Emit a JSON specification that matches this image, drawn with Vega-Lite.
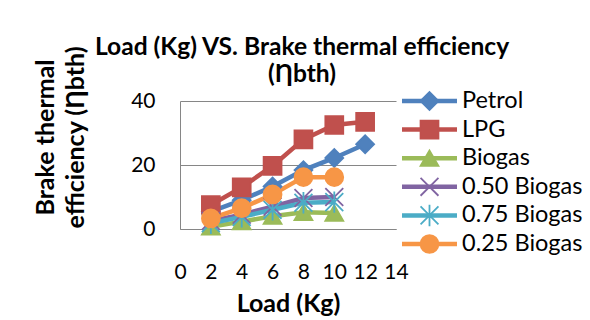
{
  "$schema": "https://vega.github.io/schema/vega-lite/v6.json",
  "padding": {"left": 33, "top": 35, "right": 0, "bottom": 0},
  "bounds": "flush",
  "spacing": 6,
  "title": {
    "text": ["Load (Kg) VS. Brake thermal efficiency", "(Ƞbth)"],
    "font": "Lato",
    "fontSize": 24.6,
    "fontWeight": "bold",
    "lineHeight": 27,
    "color": "#000000",
    "anchor": "middle",
    "dx": -6,
    "offset": -42
  },
  "datasets": {
    "bte": [
      {"series": "Petrol", "load": 2, "bte": 5.4},
      {"series": "Petrol", "load": 4, "bte": 9},
      {"series": "Petrol", "load": 6, "bte": 13.3},
      {"series": "Petrol", "load": 8, "bte": 18.4},
      {"series": "Petrol", "load": 10, "bte": 22.2},
      {"series": "Petrol", "load": 12, "bte": 26.5},
      {"series": "LPG", "load": 2, "bte": 7.5},
      {"series": "LPG", "load": 4, "bte": 13},
      {"series": "LPG", "load": 6, "bte": 19.7},
      {"series": "LPG", "load": 8, "bte": 28},
      {"series": "LPG", "load": 10, "bte": 32.5},
      {"series": "LPG", "load": 12, "bte": 33.5},
      {"series": "Biogas", "load": 2, "bte": 0.7},
      {"series": "Biogas", "load": 4, "bte": 2.3},
      {"series": "Biogas", "load": 6, "bte": 4},
      {"series": "Biogas", "load": 8, "bte": 5.2},
      {"series": "Biogas", "load": 10, "bte": 5},
      {"series": "0.50 Biogas", "load": 2, "bte": 2.5},
      {"series": "0.50 Biogas", "load": 4, "bte": 4.5},
      {"series": "0.50 Biogas", "load": 6, "bte": 7},
      {"series": "0.50 Biogas", "load": 8, "bte": 9.7},
      {"series": "0.50 Biogas", "load": 10, "bte": 10},
      {"series": "0.75 Biogas", "load": 2, "bte": 1.8},
      {"series": "0.75 Biogas", "load": 4, "bte": 3.8},
      {"series": "0.75 Biogas", "load": 6, "bte": 6},
      {"series": "0.75 Biogas", "load": 8, "bte": 8.2},
      {"series": "0.75 Biogas", "load": 10, "bte": 8.4},
      {"series": "0.25 Biogas", "load": 2, "bte": 3.3},
      {"series": "0.25 Biogas", "load": 4, "bte": 6.5},
      {"series": "0.25 Biogas", "load": 6, "bte": 10.8},
      {"series": "0.25 Biogas", "load": 8, "bte": 16.2},
      {"series": "0.25 Biogas", "load": 10, "bte": 16.2}
    ]
  },
  "config": {
    "view": {"stroke": null},
    "font": "Lato",
    "axis": {
      "domainColor": "#868686",
      "gridColor": "#868686",
      "labelColor": "#000000",
      "titleColor": "#000000",
      "labelFont": "Lato",
      "titleFont": "Lato",
      "labelFontSize": 21,
      "titleFontSize": 25,
      "titleFontWeight": "bold",
      "labelOverlap": false,
      "ticks": false
    }
  },
  "hconcat": [
    {
      "width": 216,
      "height": 128,
      "data": {"name": "bte"},
      "encoding": {
        "x": {
          "field": "load", "type": "quantitative",
          "scale": {"domain": [0, 14], "nice": false, "zero": true},
          "axis": {"values": [0, 2, 4, 6, 8, 10, 12, 14], "tickCount": 8, "grid": false, "title": "Load (Kg)", "labelPadding": 32, "titlePadding": 9, "labelOverlap": false, "labelBound": false, "labelFlush": false}
        },
        "y": {
          "field": "bte", "type": "quantitative",
          "scale": {"domain": [0, 40], "nice": false},
          "axis": {"values": [0, 20, 40], "grid": true, "title": ["Brake thermal", "efficiency (Ƞbth)"], "labelPadding": 25, "titlePadding": 42, "titleY": 36, "titleLineHeight": 30}
        },
        "color": {
          "field": "series", "type": "nominal", "legend": null,
          "scale": {
            "domain": ["Petrol", "LPG", "Biogas", "0.50 Biogas", "0.75 Biogas", "0.25 Biogas"],
            "range": ["#4F81BD", "#C0504D", "#9BBB59", "#8064A2", "#4BACC6", "#F79646"]
          }
        }
      },
      "layer": [
        {
          "mark": {"type": "line", "strokeWidth": 4.5}
        },
        {
          "mark": {"type": "point", "filled": true, "opacity": 1, "size": 320, "strokeWidth": 1.8},
          "encoding": {
            "stroke": {
              "field": "series", "type": "nominal", "legend": null,
              "scale": {
                "domain": ["Petrol", "LPG", "Biogas", "0.50 Biogas", "0.75 Biogas", "0.25 Biogas"],
                "range": ["#4F81BD", "#C0504D", "#9BBB59", "#8064A2", "#4BACC6", "#F79646"]
              }
            },
            "shape": {
              "field": "series", "type": "nominal", "legend": null,
              "scale": {
                "domain": ["Petrol", "LPG", "Biogas", "0.50 Biogas", "0.75 Biogas", "0.25 Biogas"],
                "range": ["diamond", "square", "triangle-up", "M-1,-1L1,1M-1,1L1,-1", "M-1,-1L1,1M-1,1L1,-1M0,-1.2L0,1.2", "circle"]
              }
            }
          }
        }
      ]
    },
    {
      "width": 55,
      "height": 143,
      "data": {"name": "bte"},
      "transform": [{"filter": "datum.load == 2"}],
      "encoding": {
        "y": {
          "field": "series", "type": "nominal", "axis": null,
          "sort": ["Petrol", "LPG", "Biogas", "0.50 Biogas", "0.75 Biogas", "0.25 Biogas"],
          "scale": {"type": "point", "padding": 0}
        }
      },
      "layer": [
        {
          "mark": {"type": "rule", "strokeWidth": 4.5},
          "encoding": {
            "x": {"datum": 0, "type": "quantitative", "scale": {"domain": [0, 1]}, "axis": null},
            "x2": {"datum": 1},
            "color": {
              "field": "series", "type": "nominal", "legend": null,
              "scale": {
                "domain": ["Petrol", "LPG", "Biogas", "0.50 Biogas", "0.75 Biogas", "0.25 Biogas"],
                "range": ["#4F81BD", "#C0504D", "#9BBB59", "#8064A2", "#4BACC6", "#F79646"]
              }
            }
          }
        },
        {
          "mark": {"type": "point", "filled": true, "opacity": 1, "size": 320, "strokeWidth": 1.8},
          "encoding": {
            "x": {"datum": 0.5, "type": "quantitative", "scale": {"domain": [0, 1]}, "axis": null},
            "color": {
              "field": "series", "type": "nominal", "legend": null,
              "scale": {
                "domain": ["Petrol", "LPG", "Biogas", "0.50 Biogas", "0.75 Biogas", "0.25 Biogas"],
                "range": ["#4F81BD", "#C0504D", "#9BBB59", "#8064A2", "#4BACC6", "#F79646"]
              }
            },
            "stroke": {
              "field": "series", "type": "nominal", "legend": null,
              "scale": {
                "domain": ["Petrol", "LPG", "Biogas", "0.50 Biogas", "0.75 Biogas", "0.25 Biogas"],
                "range": ["#4F81BD", "#C0504D", "#9BBB59", "#8064A2", "#4BACC6", "#F79646"]
              }
            },
            "shape": {
              "field": "series", "type": "nominal", "legend": null,
              "scale": {
                "domain": ["Petrol", "LPG", "Biogas", "0.50 Biogas", "0.75 Biogas", "0.25 Biogas"],
                "range": ["diamond", "square", "triangle-up", "M-1,-1L1,1M-1,1L1,-1", "M-1,-1L1,1M-1,1L1,-1M0,-1.2L0,1.2", "circle"]
              }
            }
          }
        },
        {
          "mark": {"type": "text", "align": "left", "baseline": "middle", "dx": 5, "fontSize": 23.5, "font": "Lato", "color": "#000000"},
          "encoding": {
            "x": {"datum": 1, "type": "quantitative", "scale": {"domain": [0, 1]}, "axis": null},
            "text": {"field": "series", "type": "nominal"}
          }
        }
      ]
    }
  ]
}
